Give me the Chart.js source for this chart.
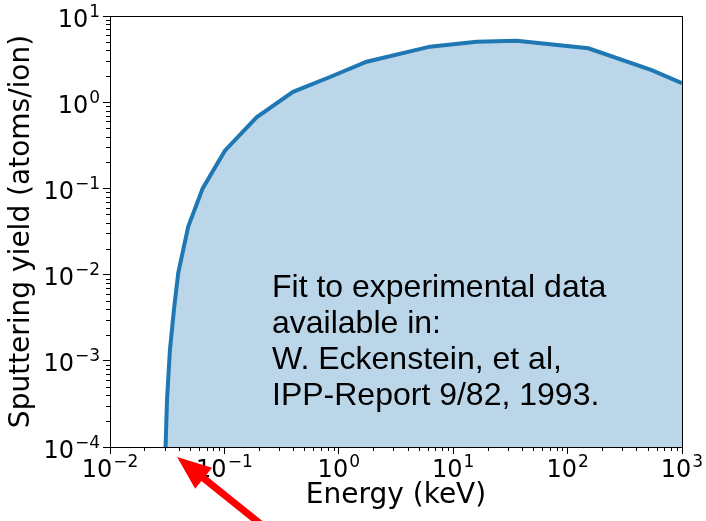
<!DOCTYPE html>
<html>
<head>
<meta charset="utf-8">
<script src="https://cdn.jsdelivr.net/npm/chart.js@4.4.1/dist/chart.umd.min.js"></script>
<style>
  html, body { margin: 0; padding: 0; background: #fff; }
</style>
</head>
<body>
<canvas id="yieldChart" width="706" height="521"></canvas>
<script>
// sputtering yield (energy in keV, yield in atoms/ion)
const energy = [0.0306, 0.0315, 0.0334, 0.0362, 0.0395, 0.0483, 0.0646, 0.101, 0.191, 0.398, 0.838, 1.75, 6.27, 16.0, 35.9, 152, 543, 1000];
const yieldVals = [1e-4, 3.5e-4, 1.33e-3, 3.9e-3, 0.0105, 0.036, 0.1, 0.274, 0.668, 1.32, 1.96, 2.95, 4.41, 5.04, 5.17, 4.22, 2.36, 1.66];

const xDecades = [-2, 3];
const yDecades = [-4, 1];

const noteLines = ['Fit to experimental data', 'available in:', 'W. Eckenstein, et al,', 'IPP-Report 9/82, 1993.'];
const arrowTipEnergy = 0.0386;

function logTicks(lo, hi) {
  const t = [];
  for (let e = lo; e <= hi; e++) {
    t.push({ value: Math.pow(10, e), major: true });
    if (e < hi) {
      for (let m = 2; m <= 9; m++) t.push({ value: m * Math.pow(10, e), major: false });
    }
  }
  return t;
}

Chart.defaults.font.family = '"DejaVu Sans", sans-serif';
Chart.defaults.font.size = 28;
Chart.defaults.color = '#000';

const BASE_FONT = '24px "DejaVu Sans", sans-serif';
const EXP_FONT = '17px "DejaVu Sans", sans-serif';

// "10" with a raised exponent, anchored at (x, baseline)
function drawPow(c, value, x, baseline, align) {
  const e = String(Math.round(Math.log10(value))).replace('-', '\u2212');
  c.font = BASE_FONT;
  const wb = c.measureText('10').width;
  c.font = EXP_FONT;
  const we = c.measureText(e).width;
  const total = wb + we + 1;
  let left = x - total / 2;
  if (align === 'right') left = x - total;
  c.textAlign = 'left';
  c.textBaseline = 'alphabetic';
  c.font = BASE_FONT;
  c.fillText('10', left, baseline);
  c.font = EXP_FONT;
  c.fillText(e, left + wb + 1, baseline - 10);
}

// spines, minor ticks, tick labels, the note and the red arrow
const extras = {
  id: 'extras',
  afterDraw(chart) {
    const c = chart.ctx;
    const a = chart.chartArea;
    const xs = chart.scales.x, ys = chart.scales.y;
    c.save();
    c.strokeStyle = '#000';
    c.lineWidth = 1;
    c.beginPath();
    xs.ticks.forEach(t => {
      if (t.major) return;
      const px = Math.round(xs.getPixelForValue(t.value)) + 0.5;
      c.moveTo(px, a.bottom); c.lineTo(px, a.bottom + 4);
    });
    ys.ticks.forEach(t => {
      if (t.major) return;
      const py = Math.round(ys.getPixelForValue(t.value)) + 0.5;
      c.moveTo(a.left, py); c.lineTo(a.left - 4, py);
    });
    c.stroke();
    c.strokeRect(Math.round(a.left) + 0.5, Math.round(a.top) + 0.5, Math.round(a.right - a.left), Math.round(a.bottom - a.top));

    c.fillStyle = '#000';
    xs.ticks.forEach(t => {
      if (!t.major) return;
      drawPow(c, t.value, xs.getPixelForValue(t.value), a.bottom + 30, 'center');
    });
    ys.ticks.forEach(t => {
      if (!t.major) return;
      drawPow(c, t.value, a.left - 10, ys.getPixelForValue(t.value) + 10.5, 'right');
    });

    c.font = '32px "Liberation Sans", Arial, sans-serif';
    c.textAlign = 'left';
    c.textBaseline = 'alphabetic';
    noteLines.forEach((line, i) => {
      c.fillText(line, a.left + 162, a.top + 281 + i * 36);
    });

    // arrow
    const tipX = xs.getPixelForValue(arrowTipEnergy);
    const tipY = a.bottom + 10;
    const ux = 0.78, uy = 0.626;
    const headLen = 34, headHalf = 13.5;
    const bx = tipX + ux * headLen, by = tipY + uy * headLen;
    c.strokeStyle = '#ff0000';
    c.fillStyle = '#ff0000';
    c.lineWidth = 7;
    c.beginPath();
    c.moveTo(bx - ux * 2, by - uy * 2);
    c.lineTo(tipX + ux * 160, tipY + uy * 160);
    c.stroke();
    c.beginPath();
    c.moveTo(tipX, tipY);
    c.lineTo(bx - uy * headHalf, by + ux * headHalf);
    c.lineTo(bx + uy * headHalf, by - ux * headHalf);
    c.closePath();
    c.fill();
    c.restore();
  }
};

const tickGrid = {
  drawOnChartArea: false, drawTicks: true, tickLength: 7, tickWidth: 1,
  tickColor: ctx => (ctx.tick && ctx.tick.major) ? '#000' : 'rgba(0,0,0,0)'
};

new Chart(document.getElementById('yieldChart'), {
  type: 'line',
  data: {
    datasets: [{
      data: energy.map((e, i) => ({ x: e, y: yieldVals[i] })),
      borderColor: '#1f77b4',
      backgroundColor: 'rgba(31,119,180,0.3)',
      borderWidth: 4,
      pointRadius: 0,
      fill: 'start',
      tension: 0
    }]
  },
  options: {
    responsive: false,
    animation: false,
    layout: { padding: { left: 0, top: 16, right: 24, bottom: 0 } },
    plugins: { legend: { display: false }, tooltip: { enabled: false } },
    scales: {
      x: {
        type: 'logarithmic',
        min: Math.pow(10, xDecades[0]),
        max: Math.pow(10, xDecades[1]),
        afterBuildTicks: s => { s.ticks = logTicks(xDecades[0], xDecades[1]); },
        afterFit: s => { s.height = 74; s.paddingLeft = 0; s.paddingRight = 0; },
        ticks: { display: false, autoSkip: false },
        grid: tickGrid,
        border: { display: false },
        title: { display: true, text: 'Energy (keV)', padding: { top: 0, bottom: 8 } }
      },
      y: {
        type: 'logarithmic',
        min: Math.pow(10, yDecades[0]),
        max: Math.pow(10, yDecades[1]),
        afterBuildTicks: s => { s.ticks = logTicks(yDecades[0], yDecades[1]); },
        afterFit: s => { s.width = 110; s.paddingTop = 0; s.paddingBottom = 0; },
        ticks: { display: false, autoSkip: false },
        grid: tickGrid,
        border: { display: false },
        title: { display: true, text: 'Sputtering yield (atoms/ion)', padding: { top: 5, bottom: 0 } }
      }
    }
  },
  plugins: [extras]
});
</script>
</body>
</html>
